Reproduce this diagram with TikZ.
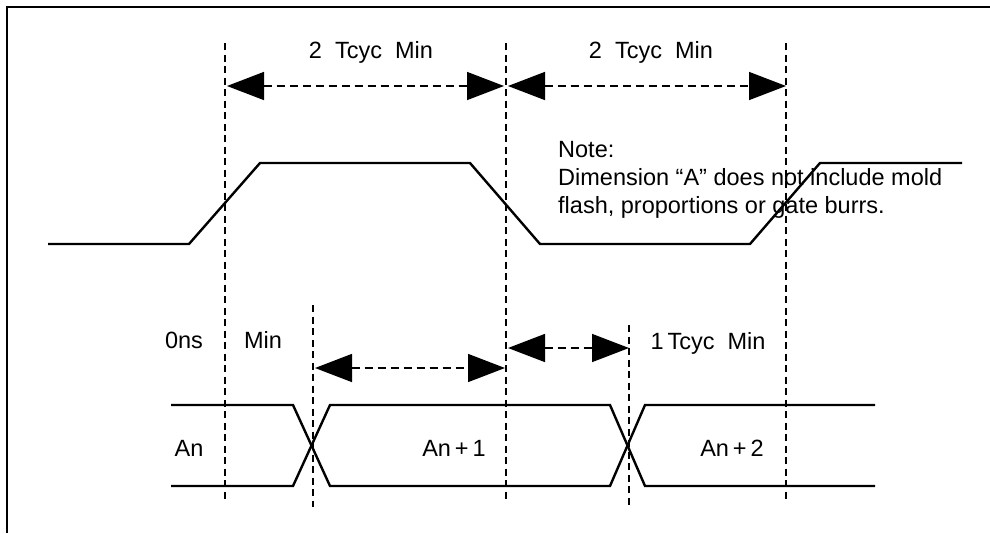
\documentclass[tikz,border=0pt]{standalone}
\usepackage{fontspec}
\setmainfont{Liberation Sans}
\usetikzlibrary{arrows.meta}

\begin{document}
\begin{tikzpicture}[x=1pt,y=-1pt,line join=miter,
    font=\fontsize{23.5}{28}\selectfont]

        \tikzstyle{frame}=[line width=2pt]
        \tikzstyle{wave}=[line width=2.4pt]
        \tikzstyle{guide}=[line width=1.5pt, dash pattern=on 7pt off 4.5pt]
        \tikzstyle{dim}=[line width=1.5pt, dash pattern=on 8pt off 5pt,
            {Triangle[length=37pt,width=28pt]}-{Triangle[length=37pt,width=28pt]}]
        \tikzstyle{label}=[inner sep=0pt, anchor=base]

        \useasboundingbox (0,0) rectangle (990,533);

        % frame (only top and left edges visible)
        \draw[frame] (7,533) -- (7,7) -- (990,7);

        % dashed guides
        \coordinate (g1t) at (225,43);   \coordinate (g1b) at (225,502);
        \coordinate (g2t) at (506,43);   \coordinate (g2b) at (506,502);
        \coordinate (g3t) at (786,43);   \coordinate (g3b) at (786,502);
        \coordinate (g4t) at (313,305);  \coordinate (g4b) at (313,507);
        \coordinate (g5t) at (629,325);  \coordinate (g5b) at (629,507);
        \draw[guide] (g1t) -- (g1b);
        \draw[guide] (g2t) -- (g2b);
        \draw[guide] (g3t) -- (g3b);
        \draw[guide] (g4t) -- (g4b);
        \draw[guide] (g5t) -- (g5b);

        % dimension arrows
        \coordinate (d1l) at (227,86);   \coordinate (d1r) at (504,86);
        \coordinate (d2l) at (508,86);   \coordinate (d2r) at (786,86);
        \coordinate (d3l) at (315,368);  \coordinate (d3r) at (505,368);
        \coordinate (d4l) at (508,348);  \coordinate (d4r) at (629,348);
        \draw[dim] (d1l) -- (d1r);
        \draw[dim] (d2l) -- (d2r);
        \draw[dim] (d3l) -- (d3r);
        \draw[dim] (d4l) -- (d4r);

        % upper waveform
        \draw[wave] (48,244) -- (189,244) -- (260,163) -- (470,163)
            -- (540,244) -- (750,244) -- (820,163) -- (962,163);

        % address bus
        \draw[wave] (171,405) -- (293,405) -- (330,486) -- (610,486)
            -- (645,405) -- (875,405);
        \draw[wave] (171,486) -- (293,486) -- (330,405) -- (610,405)
            -- (645,486) -- (875,486);

        % labels
        \node[label] (t1)  at (371,58)  {2\ \ Tcyc\ \ Min};
        \node[label] (t2)  at (651,58)  {2\ \ Tcyc\ \ Min};
        \node[label] (ns)  at (184,348) {0ns};
        \node[label] (mn)  at (263,348) {Min};
        \node[label] (t3)  at (708,349) {1\,Tcyc\ \ Min};
        \node[label] (an0) at (189,456) {An};
        \node[label] (an1) at (454,456) {An\,+\,1};
        \node[label] (an2) at (732,456) {An\,+\,2};
        \node[inner sep=0pt, anchor=base west, align=left] (note) at (558,213)
            {Note:\\Dimension “A” does not include mold\\flash, proportions or gate burrs.};

\end{tikzpicture}
\end{document}
